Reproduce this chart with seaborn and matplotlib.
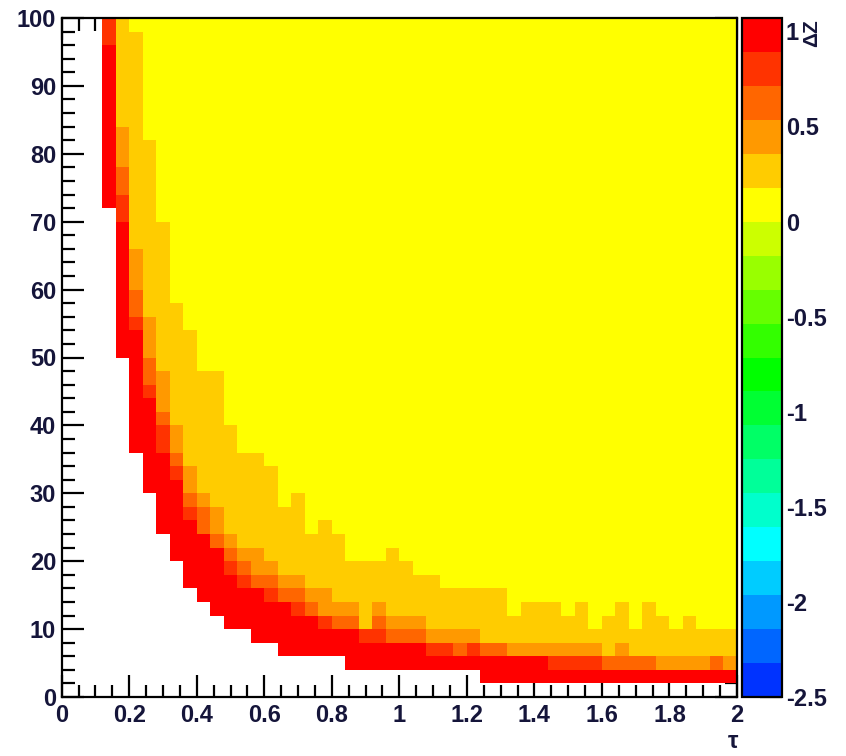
import numpy as np
import pandas as pd
import matplotlib
matplotlib.use("Agg")
import matplotlib.pyplot as plt
from matplotlib import font_manager
from matplotlib.colors import ListedColormap
from matplotlib.ticker import FixedLocator
import seaborn as sns

# ---------------- data ----------------
TAU_MIN, TAU_MAX, N_TAU = 0.0, 2.0, 50
Y_MIN, Y_MAX, N_Y = 0.0, 100.0, 50
Z_MIN, Z_MAX = -2.5, 1.07

# value drawn in each colour band, from the red band to the yellow band
level_values = [0.98, 0.80, 0.62, 0.45, 0.27, 0.09]

# per tau-column: first y-bin of each colour band (50 = band absent / not reached)
red_start = [50, 50, 50, 36, 25, 18, 15, 12, 10, 8,
             7, 6, 5, 5, 4, 4, 3, 3, 3, 3,
             3, 2, 2, 2, 2, 2, 2, 2, 2, 2,
             2, 1, 1, 1, 1, 1, 1, 1, 1, 1,
             1, 1, 1, 1, 1, 1, 1, 1, 1, 1]
orange1_start = [50, 50, 50, 48, 35, 27, 22, 18, 16, 13,
                 12, 11, 9, 8, 8, 7, 7, 6, 6, 5,
                 5, 5, 4, 4, 4, 4, 4, 3, 3, 3,
                 3, 3, 3, 3, 3, 3, 2, 2, 2, 2,
                 2, 2, 2, 2, 2, 2, 2, 2, 2, 2]
orange2_start = [50, 50, 50, 50, 37, 28, 23, 20, 17, 14,
                 12, 11, 10, 9, 8, 8, 7, 7, 6, 6,
                 5, 5, 5, 5, 4, 4, 4, 4, 4, 3,
                 4, 3, 3, 3, 3, 3, 3, 3, 3, 3,
                 2, 2, 2, 2, 2, 2, 2, 2, 2, 2]
orange3_start = [50, 50, 50, 50, 39, 30, 25, 21, 18, 15,
                 14, 12, 11, 10, 9, 9, 8, 8, 7, 6,
                 6, 6, 5, 6, 5, 5, 5, 4, 4, 4,
                 4, 4, 4, 3, 3, 3, 3, 3, 3, 3,
                 3, 3, 3, 3, 2, 2, 2, 2, 3, 2]
orange4_start = [50, 50, 50, 50, 42, 33, 28, 24, 20, 17,
                 15, 14, 12, 11, 11, 10, 9, 9, 8, 8,
                 7, 7, 5, 7, 6, 6, 6, 5, 5, 5,
                 5, 4, 4, 4, 4, 4, 4, 4, 4, 4,
                 3, 4, 3, 3, 3, 3, 3, 3, 3, 3]
yellow_start = [50, 50, 50, 50, 50, 49, 41, 35, 29, 27,
                24, 24, 20, 18, 18, 17, 14, 15, 12, 13,
                12, 10, 10, 10, 11, 10, 9, 9, 8, 8,
                8, 8, 8, 6, 7, 7, 7, 6, 7, 5,
                6, 7, 5, 7, 6, 5, 6, 5, 5, 5]

palette_colors = ["#0033FF", "#0066FF", "#0099FF", "#00CCFF", "#00FFFF",
                  "#00FFCC", "#00FF99", "#00FF66", "#00FF33", "#00FF00",
                  "#33FF00", "#66FF00", "#99FF00", "#CCFF00", "#FFFF00",
                  "#FFCC00", "#FF9900", "#FF6600", "#FF3300", "#FF0000"]

x_major = [0, 0.2, 0.4, 0.6, 0.8, 1.0, 1.2, 1.4, 1.6, 1.8, 2.0]
x_major_labels = ["0", "0.2", "0.4", "0.6", "0.8", "1", "1.2", "1.4", "1.6", "1.8", "2"]
y_major = [0, 10, 20, 30, 40, 50, 60, 70, 80, 90, 100]
y_major_labels = ["0", "10", "20", "30", "40", "50", "60", "70", "80", "90", "100"]
z_ticks = [-2.5, -2, -1.5, -1, -0.5, 0, 0.5, 1]
z_tick_labels = ["-2.5", "-2", "-1.5", "-1", "-0.5", "0", "0.5", "1"]

# ---------------- build the table ----------------
tau_w = (TAU_MAX - TAU_MIN) / N_TAU
y_w = (Y_MAX - Y_MIN) / N_Y
tau_centres = np.round(TAU_MIN + tau_w * (np.arange(N_TAU) + 0.5), 3)
y_centres = np.round(Y_MIN + y_w * (np.arange(N_Y) + 0.5), 3)

mat = np.full((N_Y, N_TAU), np.nan)
for i in range(N_TAU):
    bounds = [red_start[i], orange1_start[i], orange2_start[i], orange3_start[i],
              orange4_start[i], yellow_start[i], N_Y]
    for lvl in range(6):
        mat[bounds[lvl]:bounds[lvl + 1], i] = level_values[lvl]
df = pd.DataFrame(mat, index=y_centres, columns=tau_centres)

# ---------------- style ----------------
sns.set_style("ticks")
names = {f.name for f in font_manager.fontManager.ttflist}
if "Liberation Sans Narrow" in names:
    fam, fsize = "Liberation Sans Narrow", 19
else:
    fam, fsize = "Liberation Sans", 17
plt.rcParams["font.family"] = [fam, "DejaVu Sans"]
TXT = "#15153a"

W, H = 846, 756
fig = plt.figure(figsize=(W / 100, H / 100), dpi=100)
ax = fig.add_axes([61.7 / W, 1 - 697 / H, (737 - 61.7) / W, (697 - 18) / H])
cax = fig.add_axes([741.7 / W, 1 - 697 / H, 40 / W, (697 - 18) / H])

cmap = ListedColormap(palette_colors)
sns.heatmap(df, ax=ax, cmap=cmap, vmin=Z_MIN, vmax=Z_MAX, cbar_ax=cax,
            mask=df.isna(), xticklabels=False, yticklabels=False,
            linewidths=0)
ax.set_xlim(0, N_TAU)
ax.set_ylim(0, N_Y)
ax.set_facecolor("white")
for s in ax.spines.values():
    s.set_visible(True)
    s.set_linewidth(1.6)
    s.set_color("black")

# axis ticks in bin units
def tx(v):
    return (np.asarray(v, dtype=float) - TAU_MIN) / tau_w

def ty(v):
    return (np.asarray(v, dtype=float) - Y_MIN) / y_w

x_minor = np.arange(0, 41) * 0.05
y_minor = np.arange(0, 51) * 2.0
ax.xaxis.set_major_locator(FixedLocator(tx(x_major)))
ax.xaxis.set_minor_locator(FixedLocator(tx(x_minor)))
ax.yaxis.set_major_locator(FixedLocator(ty(y_major)))
ax.yaxis.set_minor_locator(FixedLocator(ty(y_minor)))
ax.set_xticklabels(x_major_labels)
ax.set_yticklabels(y_major_labels)
ax.tick_params(which="both", direction="in", top=True, right=True,
               bottom=True, left=True, labeltop=False, labelright=False,
               color="black", width=1.6)
ax.tick_params(which="major", length=16)
ax.tick_params(which="minor", length=9)
ax.tick_params(axis="x", which="major", pad=5, labelsize=fsize, labelcolor=TXT)
ax.tick_params(axis="y", which="major", pad=4, labelsize=fsize, labelcolor=TXT)
for lab in ax.get_xticklabels() + ax.get_yticklabels():
    lab.set_fontweight("bold")
    lab.set_rotation(0)
ax.set_xlabel("")
ax.set_ylabel("")

cbar = ax.collections[0].colorbar
cbar.set_ticks(z_ticks, labels=z_tick_labels)
cbar.outline.set_linewidth(1.6)
cbar.outline.set_edgecolor("black")
cax.tick_params(direction="in", length=16, width=1.6, pad=3,
                labelsize=fsize, color="black", labelcolor=TXT)
cax.minorticks_off()
for lab in cax.get_yticklabels():
    lab.set_fontweight("bold")

fig.text(733 / W, 1 - 741 / H, "τ", ha="center", va="center",
         fontsize=fsize, fontweight="bold", color=TXT)
fig.text(812 / W, 1 - 19 / H, "ΔZ", rotation=90, ha="center", va="top",
         fontsize=fsize - 2, fontweight="bold", color=TXT)

fig.savefig("out.png", dpi=100)
